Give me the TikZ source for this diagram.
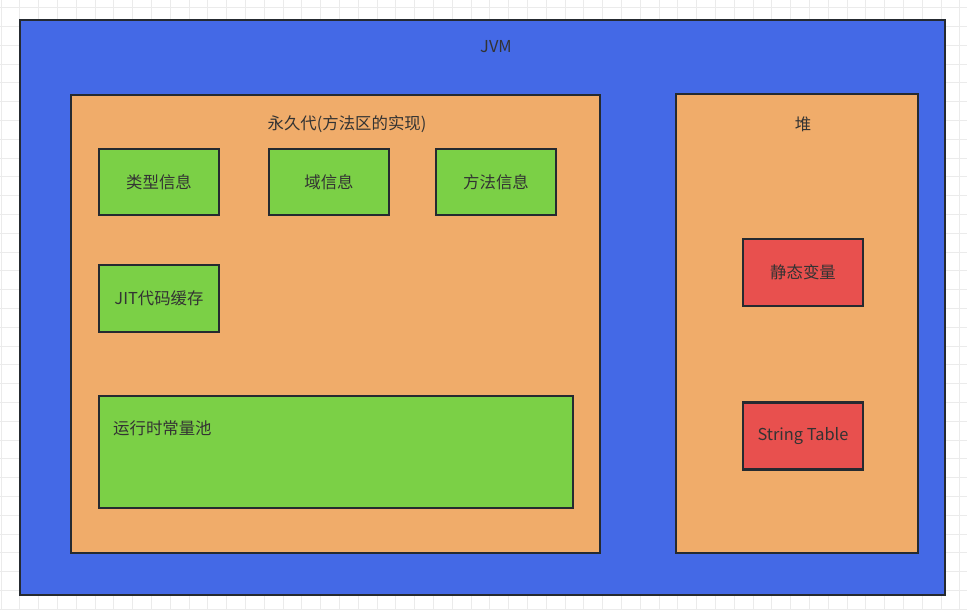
\documentclass[tikz,border=0pt]{standalone}
\usepackage{fontspec}
\setmainfont{Noto Sans CJK SC}
\usepackage{xcolor}
\usetikzlibrary{calc}

\definecolor{jvmblue}{HTML}{4469E6}
\definecolor{permorange}{HTML}{F0AC6A}
\definecolor{infogreen}{HTML}{7BD046}
\definecolor{heapred}{HTML}{E8504E}
\definecolor{edgegray}{HTML}{252A30}
\definecolor{labelgray}{HTML}{333333}

\tikzset{
  area/.style={draw=edgegray, line width=2.4pt, rectangle, inner sep=0pt},
  infobox/.style={area, fill=infogreen, minimum width=120pt, minimum height=66pt,
    text=labelgray, font=\fontsize{16.4}{19}\selectfont},
  heapbox/.style={area, fill=heapred, minimum width=120pt, minimum height=67pt,
    text=labelgray, font=\fontsize{16.4}{19}\selectfont},
  caption/.style={text=labelgray, font=\fontsize{16.4}{19}\selectfont, inner sep=0pt}
}

\begin{document}
\begin{tikzpicture}[x=1pt,y=-1pt]
    % Canvas
    \useasboundingbox (0,0) rectangle (967,610);
    \fill[white] (0,0) rectangle (967,610);

    % Grid paper
    \foreach \gx in {1,19.8,...,967} {
      \draw[black!8, line width=0.8pt] (\gx,0) -- (\gx,610);
    }
    \foreach \gy in {7.6,26.4,...,610} {
      \draw[black!8, line width=0.8pt] (0,\gy) -- (967,\gy);
    }

    % JVM
    \node[area, fill=jvmblue, minimum width=925pt, minimum height=575pt] (jvm) at (482.5,307.5) {};
    \node[caption] (jvmlabel) at (496,47) {JVM};

    % Permanent generation
    \node[area, fill=permorange, minimum width=529pt, minimum height=458pt] (perm) at (335.5,324) {};
    \node[caption] (permlabel) at (347,124.5) {永久代(方法区的实现)};

    \node[infobox] (typeinfo) at (159,182) {类型信息};
    \node[infobox] (fieldinfo) at (329,182) {域信息};
    \node[infobox] (methodinfo) at (496,182) {方法信息};
    \node[infobox, minimum height=67pt] (jitcache) at (159,298.5) {JIT代码缓存};

    % Runtime constant pool
    \node[infobox, minimum width=474pt, minimum height=112pt] (constpool) at (336,452) {};
    \node[caption, anchor=west] (constlabel) at (113,428) {运行时常量池};

    % Heap
    \node[area, fill=permorange, minimum width=242pt, minimum height=459pt] (heap) at (797,323.5) {};
    \node[caption] (heaplabel) at (803,124) {堆};

    \node[heapbox] (staticvars) at (803,272.5) {静态变量};
    \node[heapbox] (stringtable) at (803,436) {String Table};
  \end{tikzpicture}
\end{document}
